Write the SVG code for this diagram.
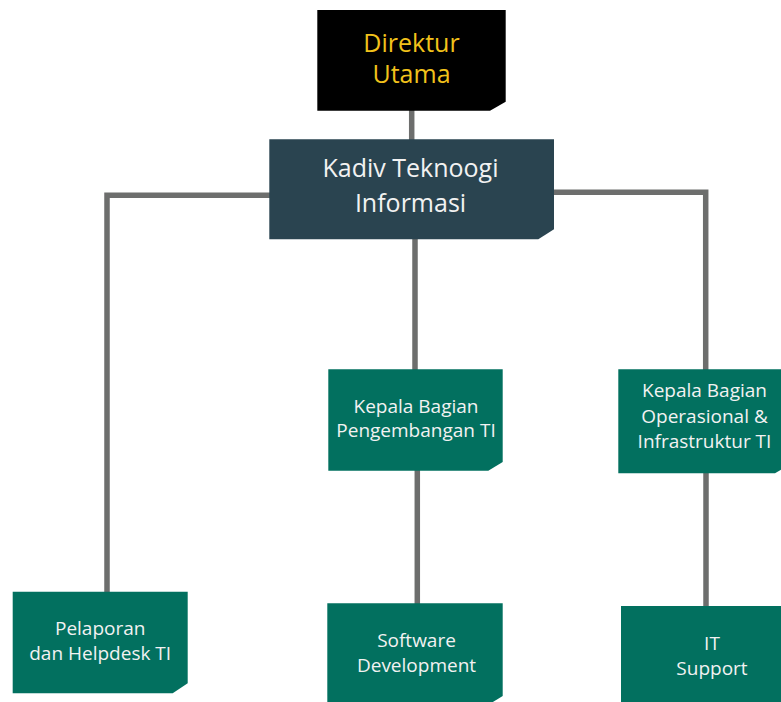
<svg xmlns="http://www.w3.org/2000/svg" width="781" height="702" viewBox="0 0 781 702">
  <style>
    .lbl { font-family: "Open Sans", "Noto Sans", sans-serif; text-anchor: middle; }
    .gold { fill: #f2c21b; font-size: 25px; }
    .head { fill: #f2f2f2; font-size: 25px; }
    .unit { fill: #f2f2f2; font-size: 19px; }
    .blk { fill: #000000; }
    .slate { fill: #2a4450; }
    .teal { fill: #02705f; }
    .wire { fill: none; stroke: #6d6e6d; stroke-width: 5.5; stroke-linejoin: miter; stroke-linecap: butt; }
  </style>
  <rect width="781" height="702" fill="#ffffff"/>

  <!-- connectors -->
  <g id="connectors">
    <path class="wire" d="M411.7 110 V140"/>
    <path class="wire" d="M270 195.3 H107 V592"/>
    <path class="wire" d="M553 192.3 H705.7 V370"/>
    <path class="wire" d="M415 239 V370"/>
    <path class="wire" d="M417.3 470 V604"/>
    <path class="wire" d="M706 472 V607"/>
  </g>

  <!-- Direktur Utama -->
  <g id="direktur-utama">
    <polygon class="blk" points="317.3,10 505.7,10 505.7,101.7 490,110.7 317.3,110.7"/>
    <text class="lbl gold" x="411.5" y="51.7">Direktur</text>
    <text class="lbl gold" x="411.5" y="83.3">Utama</text>
  </g>

  <!-- Kadiv Teknologi Informasi -->
  <g id="kadiv-ti">
    <polygon class="slate" points="269.3,139.3 554,139.3 554,229.3 538.3,239.3 269.3,239.3"/>
    <text class="lbl head" x="410.5" y="177">Kadiv Teknoogi</text>
    <text class="lbl head" x="410.5" y="212">Informasi</text>
  </g>

  <!-- Kepala Bagian Pengembangan TI -->
  <g id="kabag-pengembangan">
    <polygon class="teal" points="328.3,369.3 502.7,369.3 502.7,462 488.3,470.7 328.3,470.7"/>
    <text class="lbl unit" x="416" y="412.7">Kepala Bagian</text>
    <text class="lbl unit" x="416" y="437.3">Pengembangan TI</text>
  </g>

  <!-- Kepala Bagian Operasional & Infrastruktur TI -->
  <g id="kabag-operasional">
    <polygon class="teal" points="618.3,369.3 790,369.3 790,464.3 775,473.3 618.3,473.3"/>
    <text class="lbl unit" x="704.5" y="396.7">Kepala Bagian</text>
    <text class="lbl unit" x="704.5" y="422.7">Operasional &amp;</text>
    <text class="lbl unit" x="704.5" y="447.7">Infrastruktur TI</text>
  </g>

  <!-- Pelaporan dan Helpdesk TI -->
  <g id="pelaporan-helpdesk">
    <polygon class="teal" points="12.7,591.7 187.7,591.7 187.7,683.3 172.7,693.3 12.7,693.3"/>
    <text class="lbl unit" x="100.2" y="635">Pelaporan</text>
    <text class="lbl unit" x="100.2" y="660">dan Helpdesk TI</text>
  </g>

  <!-- Software Development -->
  <g id="software-development">
    <polygon class="teal" points="327.3,603.3 502.7,603.3 502.7,696 488,705 327.3,705"/>
    <text class="lbl unit" x="416.5" y="646.7">Software</text>
    <text class="lbl unit" x="416.5" y="671.7">Development</text>
  </g>

  <!-- IT Support -->
  <g id="it-support">
    <polygon class="teal" points="621,606 803,606 803,706 621,706"/>
    <text class="lbl unit" x="712" y="650">IT</text>
    <text class="lbl unit" x="712" y="675">Support</text>
  </g>
</svg>
